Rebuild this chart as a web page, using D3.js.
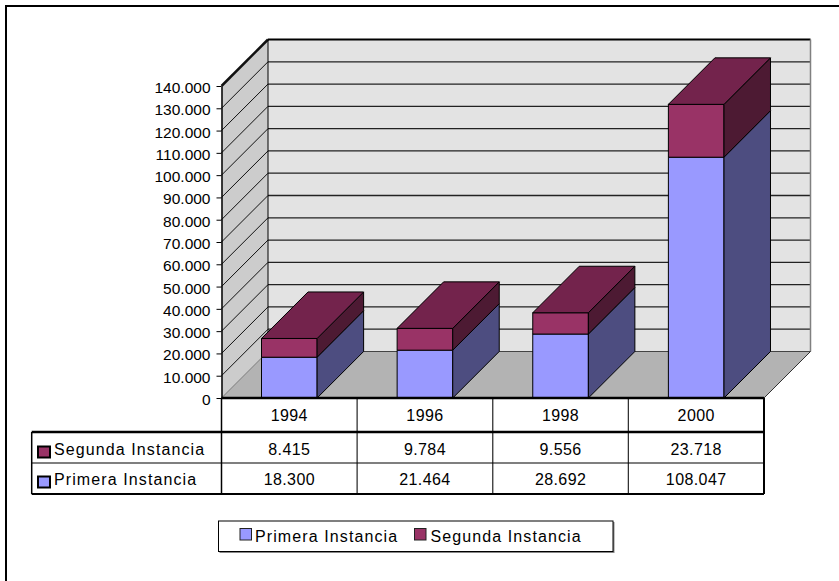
<!DOCTYPE html>
<html>
<head>
<meta charset="utf-8">
<script src="https://cdn.jsdelivr.net/npm/d3@7"></script>
<style>
  body { margin: 0; background: #fff; }
  svg text { font-family: "Liberation Sans", Arial, sans-serif; fill: #000; }
</style>
</head>
<body>
<div id="chart"></div>
<script>
// data
const years = ["1994", "1996", "1998", "2000"];
const primera = [18300, 21464, 28692, 108047];
const segunda = [8415, 9784, 9556, 23718];
const seriesNames = ["Primera Instancia", "Segunda Instancia"];
const yTicks = [0, 10000, 20000, 30000, 40000, 50000, 60000, 70000, 80000, 90000, 100000, 110000, 120000, 130000, 140000];

const width = 839;
const height = 581;
const depth = 46.5; // 3d offset, up and to the right

const colors = {
  primera: { front: "#9999ff", side: "#4d4d80", top: "#7373bf" },
  segunda: { front: "#993366", side: "#4d1a33", top: "#73234c" }
};

const loc = d3.formatLocale({ decimal: ",", thousands: ".", grouping: [3], currency: ["", ""] });
const fmt = loc.format(",d");

const svg = d3.select("#chart")
  .append("svg")
  .attr("width", width)
  .attr("height", height);

// outer chart border (runs off the right and bottom)
svg.append("path")
  .attr("d", `M6,${height + 5} L6,6 L${width + 5},6`)
  .attr("fill", "none")
  .attr("stroke", "#000")
  .attr("stroke-width", 2);

const x = d3.scaleBand().domain(years).range([221.5, 764]);
const y = d3.scaleLinear().domain([0, 140000]).range([398, 86]);

const x0 = x.range()[0], x1 = x.range()[1];
const yBottom = y(0), yTop = y(140000);
const pts = arr => arr.map(p => p.join(",")).join(" ");

// walls and floor
svg.append("polygon")
  .attr("points", pts([[x0, yTop], [x0 + depth, yTop - depth], [x0 + depth, yBottom - depth], [x0, yBottom]]))
  .attr("fill", "#cccccc");
svg.append("polygon")
  .attr("points", pts([[x0 + depth, yTop - depth], [x1 + depth, yTop - depth], [x1 + depth, yBottom - depth], [x0 + depth, yBottom - depth]]))
  .attr("fill", "#e3e3e3");
svg.append("polygon")
  .attr("points", pts([[x0, yBottom], [x1, yBottom], [x1 + depth, yBottom - depth], [x0 + depth, yBottom - depth]]))
  .attr("fill", "#b3b3b3");

// gridlines on back wall and left wall
const grid = svg.append("g");
yTicks.forEach(v => {
  const yy = y(v);
  if (v > 0 && v < 140000) {
    grid.append("line")
      .attr("x1", x0 + depth).attr("x2", x1 + depth)
      .attr("y1", yy - depth).attr("y2", yy - depth)
      .attr("stroke", "#222").attr("stroke-width", 1.3);
  }
  grid.append("line")
    .attr("x1", x0).attr("y1", yy)
    .attr("x2", x0 + depth).attr("y2", yy - depth)
    .attr("stroke", v === 0 ? "#777" : "#111")
    .attr("stroke-width", v === 140000 ? 2.5 : 1);
});

// wall edges
grid.append("line")
  .attr("x1", x0 + depth).attr("x2", x1 + depth)
  .attr("y1", yTop - depth).attr("y2", yTop - depth)
  .attr("stroke", "#000").attr("stroke-width", 2);
grid.append("line")
  .attr("x1", x0 + depth).attr("x2", x0 + depth)
  .attr("y1", yTop - depth).attr("y2", yBottom - depth)
  .attr("stroke", "#000").attr("stroke-width", 1);
grid.append("line")
  .attr("x1", x1 + depth).attr("x2", x1 + depth)
  .attr("y1", yTop - depth).attr("y2", yBottom - depth)
  .attr("stroke", "#808080").attr("stroke-width", 1.5);
grid.append("line")
  .attr("x1", x0 + depth).attr("x2", x1 + depth)
  .attr("y1", yBottom - depth).attr("y2", yBottom - depth)
  .attr("stroke", "#444").attr("stroke-width", 1);
grid.append("line")
  .attr("x1", x1).attr("y1", yBottom)
  .attr("x2", x1 + depth).attr("y2", yBottom - depth)
  .attr("stroke", "#333").attr("stroke-width", 1);

// stacked 3d columns
const barW = x.bandwidth() * 0.41;
const bars = svg.append("g");

function block(g, left, yLow, yHigh, c, withTop) {
  const right = left + barW;
  g.append("polygon")
    .attr("points", pts([[left, yHigh], [right, yHigh], [right, yLow], [left, yLow]]))
    .attr("fill", c.front).attr("stroke", "#000").attr("stroke-width", 1);
  g.append("polygon")
    .attr("points", pts([[right, yHigh], [right + depth, yHigh - depth], [right + depth, yLow - depth], [right, yLow]]))
    .attr("fill", c.side).attr("stroke", "#000").attr("stroke-width", 1);
  if (withTop) {
    g.append("polygon")
      .attr("points", pts([[left, yHigh], [left + depth, yHigh - depth], [right + depth, yHigh - depth], [right, yHigh]]))
      .attr("fill", c.top).attr("stroke", "#000").attr("stroke-width", 1);
  }
}

years.forEach((yr, i) => {
  const g = bars.append("g");
  const left = x(yr) + (x.bandwidth() - barW) / 2;
  block(g, left, y(0), y(primera[i]), colors.primera, false);
  block(g, left, y(primera[i]), y(primera[i] + segunda[i]), colors.segunda, true);
});

// y axis
const yAxis = d3.axisLeft(y)
  .tickValues(yTicks)
  .tickSize(5)
  .tickSizeOuter(0)
  .tickPadding(6)
  .tickFormat(fmt);

const axisG = svg.append("g")
  .attr("transform", `translate(${x0},0)`)
  .call(yAxis);
axisG.select(".domain").attr("stroke", "#000").attr("stroke-width", 1.5);
axisG.selectAll(".tick line").attr("stroke", "#000");
axisG.selectAll(".tick text")
  .attr("font-size", 15.5)
  .attr("dy", "0.42em")
  .style("font-family", "'Liberation Sans', Arial, sans-serif");

// data table
const tLeft = 31.7;
const rowTop = [398, 432, 463];
const rowBottom = 494;
const table = svg.append("g");

years.forEach((yr, i) => {
  const cx = x(yr) + x.bandwidth() / 2;
  table.append("text")
    .attr("x", cx).attr("y", 421)
    .attr("text-anchor", "middle")
    .attr("font-size", 16)
    .attr("letter-spacing", 0.4)
    .text(yr);
  table.append("text")
    .attr("x", cx).attr("y", 455)
    .attr("text-anchor", "middle")
    .attr("font-size", 16)
    .attr("letter-spacing", 0.4)
    .text(fmt(segunda[i]));
  table.append("text")
    .attr("x", cx).attr("y", 485)
    .attr("text-anchor", "middle")
    .attr("font-size", 16)
    .attr("letter-spacing", 0.4)
    .text(fmt(primera[i]));
  if (i > 0) {
    table.append("line")
      .attr("x1", x(yr)).attr("x2", x(yr))
      .attr("y1", rowTop[0]).attr("y2", rowBottom)
      .attr("stroke", "#333").attr("stroke-width", 1.3);
  }
});

// row labels with keys
[
  { name: seriesNames[1], c: colors.segunda.front, yy: 455, ky: 446.5 },
  { name: seriesNames[0], c: colors.primera.front, yy: 485, ky: 476.5 }
].forEach(r => {
  table.append("rect")
    .attr("x", 38).attr("y", r.ky)
    .attr("width", 12).attr("height", 11)
    .attr("fill", r.c).attr("stroke", "#000").attr("stroke-width", 2);
  table.append("text")
    .attr("x", 54).attr("y", r.yy)
    .attr("font-size", 16)
    .attr("letter-spacing", 1.1)
    .text(r.name);
});

// table lines
table.append("line")
  .attr("x1", x0).attr("x2", x0).attr("y1", rowTop[0]).attr("y2", rowBottom)
  .attr("stroke", "#000").attr("stroke-width", 1.5);
table.append("line")
  .attr("x1", x1).attr("x2", x1).attr("y1", rowTop[0]).attr("y2", rowBottom)
  .attr("stroke", "#000").attr("stroke-width", 2);
table.append("line")
  .attr("x1", tLeft).attr("x2", tLeft).attr("y1", rowTop[1]).attr("y2", rowBottom)
  .attr("stroke", "#000").attr("stroke-width", 1.5);
table.append("line")
  .attr("x1", x0).attr("x2", x1).attr("y1", rowTop[0]).attr("y2", rowTop[0])
  .attr("stroke", "#000").attr("stroke-width", 2.5);
table.append("line")
  .attr("x1", tLeft).attr("x2", x1).attr("y1", rowTop[1]).attr("y2", rowTop[1])
  .attr("stroke", "#000").attr("stroke-width", 2.5);
table.append("line")
  .attr("x1", tLeft).attr("x2", x1).attr("y1", rowTop[2]).attr("y2", rowTop[2])
  .attr("stroke", "#000").attr("stroke-width", 1.2);
table.append("line")
  .attr("x1", tLeft).attr("x2", x1).attr("y1", rowBottom).attr("y2", rowBottom)
  .attr("stroke", "#000").attr("stroke-width", 1.8);

// legend
const legend = svg.append("g");
legend.append("rect")
  .attr("x", 219.5).attr("y", 522)
  .attr("width", 395).attr("height", 31)
  .attr("fill", "#888");
legend.append("rect")
  .attr("x", 218.5).attr("y", 521)
  .attr("width", 394.5).attr("height", 30.5)
  .attr("fill", "#fff").attr("stroke", "#000").attr("stroke-width", 1);

const legendItems = [
  { name: seriesNames[0], c: colors.primera.front, kx: 240, tx: 255 },
  { name: seriesNames[1], c: colors.segunda.front, kx: 414.5, tx: 430.5 }
];
legendItems.forEach(it => {
  legend.append("rect")
    .attr("x", it.kx).attr("y", 528.5)
    .attr("width", 11.5).attr("height", 11.5)
    .attr("fill", it.c).attr("stroke", "#222").attr("stroke-width", 1);
  legend.append("text")
    .attr("x", it.tx).attr("y", 541.5)
    .attr("font-size", 16)
    .attr("letter-spacing", 1.1)
    .text(it.name);
});
</script>
</body>
</html>
